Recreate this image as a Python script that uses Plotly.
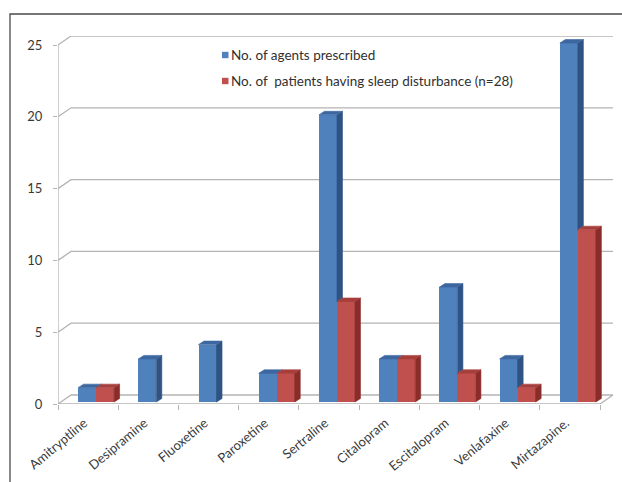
import plotly.graph_objects as go

# ---- data -------------------------------------------------------------
drugs = ["Amitryptline", "Desipramine", "Fluoxetine", "Paroxetine", "Sertraline",
         "Citalopram", "Escitalopram", "Venlafaxine", "Mirtazapine."]
prescribed = [1, 3, 4, 2, 20, 3, 8, 3, 25]
sleep_disturbance = [1, 0, 0, 2, 7, 3, 2, 1, 12]
y_ticks = [0, 5, 10, 15, 20, 25]
series_names = ["No. of agents prescribed",
                "No. of\u00a0 patients having sleep disturbance (n=28)"]

# ---- styling ----------------------------------------------------------
W, H = 622, 482
ML, MR, MT, MB = 58, 9, 36, 78
FONT = "Lato"
BLUE = dict(front="#4F81BD", side="#2F5383", top="#3D67A0")
RED = dict(front="#C0504D", side="#8A2C2A", top="#A63F3C")
GRID = "#B4B4B4"
TEXT = "#383838"

n = len(drugs)
ymax = max(y_ticks)
WALL_DX_PX, WALL_DY_PX = 13, 9        # back-wall offset of the pseudo-3D box
plot_w = W - ML - MR
plot_h = H - MT - MB
ppx = (plot_w - WALL_DX_PX) / n       # pixels per category
ppy = (plot_h - WALL_DY_PX) / ymax    # pixels per value unit
wdx, wdy = WALL_DX_PX / ppx, WALL_DY_PX / ppy

bw = 18 / ppx                         # bar front width
lift = 2 / ppy                        # bars stand slightly into the floor
sdx, sdy = 5.5 / ppx, 3.5 / ppy       # bar depth (side/top faces)
off_blue = -0.017
off_red = off_blue + bw

fig = go.Figure()

# front faces
for vals, off, col, name in [(prescribed, off_blue, BLUE, series_names[0]),
                             (sleep_disturbance, off_red, RED, series_names[1])]:
    xs = [i + off for i, v in enumerate(vals) if v > 0]
    ys = [v for v in vals if v > 0]
    fig.add_trace(go.Bar(x=xs, y=ys, base=lift, width=bw, name=name,
                         marker=dict(color=col["front"], line=dict(width=0)),
                         showlegend=False))


def poly(xs, ys, color):
    fig.add_trace(go.Scatter(x=xs + [xs[0]], y=ys + [ys[0]], mode="lines",
                             fill="toself", fillcolor=color,
                             line=dict(width=0.6, color=color),
                             hoverinfo="skip", showlegend=False))


# side and top faces
for i in range(n):
    vb, vr = prescribed[i], sleep_disturbance[i]
    bx0 = i + off_blue - bw / 2
    bx1 = bx0 + bw
    rx0, rx1 = bx1, bx1 + bw
    tb, tr = lift + vb, lift + vr
    if vb > 0:
        lo = tr if vr > 0 else lift
        if vb > vr:
            poly([bx1, bx1 + sdx, bx1 + sdx, bx1],
                 [lo, lo + sdy, tb + sdy, tb], BLUE["side"])
        poly([bx0, bx0 + sdx, bx1 + sdx, bx1],
             [tb, tb + sdy, tb + sdy, tb], BLUE["top"])
    if vr > 0:
        poly([rx1, rx1 + sdx, rx1 + sdx, rx1],
             [lift, lift + sdy, tr + sdy, tr], RED["side"])
        poly([rx0, rx0 + sdx, rx1 + sdx, rx1],
             [tr, tr + sdy, tr + sdy, tr], RED["top"])

# ---- pseudo-3D box: back-wall gridlines, front axes ---------------------
shapes = []
x_left, x_right = -0.5, n - 0.5
for t in y_ticks:
    shapes.append(dict(type="path",
                       path=f"M {x_left},{t} L {x_left + wdx},{t + wdy} L {x_right + wdx},{t + wdy}",
                       xref="x", yref="y", line=dict(color=GRID, width=1.3), layer="below"))
shapes.append(dict(type="line", xref="x", yref="y", x0=x_left, x1=x_left, y0=0, y1=ymax,
                   line=dict(color=GRID, width=1.3), layer="below"))
shapes.append(dict(type="path", xref="x", yref="y",
                   path=f"M {x_left},0 L {x_right},0 L {x_right + wdx},{wdy}",
                   line=dict(color=GRID, width=1.3), layer="below"))

# outer frame
fx0 = (10 - ML) / plot_w
fx1 = (W + 5 - ML) / plot_w
fy1 = (H - MB - 14) / plot_h
fy0 = (H - MB - H - 10) / plot_h
shapes.append(dict(type="rect", xref="paper", yref="paper", x0=fx0, x1=fx1, y0=fy0, y1=fy1,
                   line=dict(color="#4A4A4A", width=1.3), layer="below"))

# ---- legend: colour keys + labels ---------------------------------------
annotations = []
LEG_X, LEG_Y0, LEG_DY = 222, 55, 26
for k, (name, col) in enumerate([(series_names[0], BLUE["front"]),
                                 (series_names[1], RED["front"])]):
    ypx = LEG_Y0 + LEG_DY * k
    xp = (LEG_X - ML) / plot_w
    yp = (H - MB - ypx) / plot_h
    shapes.append(dict(type="rect", xref="paper", yref="paper",
                       xsizemode="pixel", ysizemode="pixel",
                       xanchor=xp, yanchor=yp, x0=0, x1=6.5, y0=-3.2, y1=3.2,
                       fillcolor=col, line=dict(width=0), layer="above"))
    annotations.append(dict(
        xref="paper", yref="paper",
        x=(LEG_X + 6.5 - ML) / plot_w, y=yp,
        xanchor="left", yanchor="middle", showarrow=False,
        text=name, font=dict(family=FONT, size=13.5, color="#303030")))

fig.update_layout(
    width=W, height=H,
    margin=dict(l=ML, r=MR, t=MT, b=MB, pad=0),
    paper_bgcolor="white", plot_bgcolor="white",
    barmode="overlay", bargap=0,
    font=dict(family=FONT, size=12, color=TEXT),
    shapes=shapes, annotations=annotations,
    showlegend=False,
    xaxis=dict(range=[x_left, x_right + wdx], tickvals=list(range(n)), ticktext=drugs,
               tickangle=-40, showgrid=False, zeroline=False, showline=False,
               ticks="", ticklabelstandoff=8, ticklabelshift=-4,
               tickfont=dict(family=FONT, size=13, color=TEXT),
               minor=dict(ticks="outside", tick0=-0.5, dtick=1, ticklen=5,
                          tickcolor=GRID, tickwidth=1.3, showgrid=False),
               fixedrange=True),
    yaxis=dict(range=[0, ymax + wdy], tickvals=y_ticks, showgrid=False, zeroline=False,
               showline=False, ticks="outside", ticklen=4, tickcolor=GRID, tickwidth=1.3,
               ticklabelstandoff=8, tickfont=dict(family=FONT, size=13, color=TEXT),
               fixedrange=True),
)

fig.write_html("out.html")
